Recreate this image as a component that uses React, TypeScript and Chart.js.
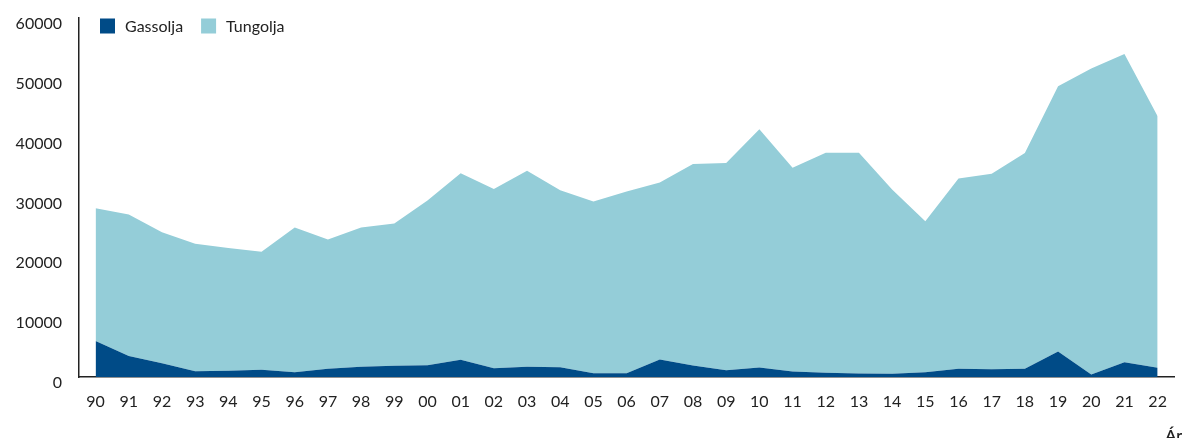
import React, { useEffect, useRef } from "react";
import { Chart, registerables } from "chart.js";

Chart.register(...registerables);

const years = ["90","91","92","93","94","95","96","97","98","99","00","01","02","03","04","05","06","07","08","09","10","11","12","13","14","15","16","17","18","19","20","21","22"];
const gassolja = [6000,3490,2310,970,1040,1200,800,1370,1710,1880,1980,2880,1480,1710,1640,640,640,2930,1930,1140,1590,920,700,590,540,800,1370,1310,1370,4270,420,2480,1540];
const tungolja = [22200,23660,21880,21320,20530,19750,24170,21590,23260,23760,27520,31190,29960,32760,29590,28690,30360,29580,33660,34620,39810,34050,36790,36900,30800,25230,31810,32660,36060,44330,51150,51490,42040];
const yTicks = [0,10000,20000,30000,40000,50000,60000];
const seriesNames = ["Gassolja", "Tungolja"];
const axisTitle = "Ár";

const COLORS = ["#004B87", "#94CDD8"];
const TEXT = "#222222";
const FONT = "Lato";

const overlayPlugin = {
  id: "overlay",
  afterDraw(chart: any) {
    const { ctx, chartArea } = chart;
    ctx.save();
    ctx.font = `16px ${FONT}`;
    ctx.textBaseline = "middle";
    ctx.textAlign = "left";
    let x = chartArea.left + 21;
    const y = chartArea.top + 0.5;
    chart.data.datasets.forEach((ds: any) => {
      ctx.fillStyle = ds.backgroundColor;
      ctx.fillRect(x, y, 15, 15);
      ctx.fillStyle = TEXT;
      ctx.fillText(ds.label, x + 25, y + 8);
      x += 25 + ctx.measureText(ds.label).width + 18;
    });
    ctx.font = `600 16px ${FONT}`;
    ctx.fillStyle = TEXT;
    ctx.fillText(axisTitle, chartArea.right - 9, chart.height - 2);
    ctx.restore();
  },
};

export default function App() {
  const ref = useRef<HTMLCanvasElement | null>(null);
  useEffect(() => {
    if (!ref.current) return;
    const chart = new Chart(ref.current, {
      type: "line",
      data: {
        labels: years,
        datasets: [
          {
            label: seriesNames[0],
            data: gassolja,
            backgroundColor: COLORS[0],
            borderColor: COLORS[0],
            borderWidth: 0,
            pointRadius: 0,
            fill: "origin",
            tension: 0,
          },
          {
            label: seriesNames[1],
            data: tungolja,
            backgroundColor: COLORS[1],
            borderColor: COLORS[1],
            borderWidth: 0,
            pointRadius: 0,
            fill: "-1",
            tension: 0,
          },
        ],
      },
      options: {
        animation: false,
        responsive: true,
        maintainAspectRatio: false,
        layout: { padding: { top: 18, right: 6, left: 0, bottom: 0 } },
        plugins: {
          legend: { display: false },
          tooltip: { enabled: false },
        },
        scales: {
          x: {
            type: "category",
            offset: true,
            grid: { display: false, drawTicks: false },
            border: { display: true, color: TEXT, width: 1.5 },
            ticks: {
              color: TEXT,
              font: { family: FONT, size: 16 },
              padding: 15,
              maxRotation: 0,
              autoSkip: false,
            },
            afterFit(scale: any) {
              scale.height = 61;
            },
          },
          y: {
            stacked: true,
            min: 0,
            max: 60000,
            grid: { display: false, drawTicks: false },
            border: { display: true, color: TEXT, width: 1.5 },
            afterBuildTicks(scale: any) {
              scale.ticks = yTicks.map((v) => ({ value: v }));
            },
            ticks: {
              color: TEXT,
              font: { family: FONT, size: 16 },
              padding: 17,
              labelOffset: 6,
              callback: (v: any) => String(v),
            },
            afterFit(scale: any) {
              scale.width = 79;
              scale.paddingTop = 0;
              scale.paddingBottom = 0;
            },
          },
        },
      },
      plugins: [overlayPlugin],
    });
    return () => chart.destroy();
  }, []);
  return (
    <div style={{ position: "absolute", left: 0, top: 0, width: 1182, height: 438 }}>
      <canvas ref={ref} />
    </div>
  );
}
